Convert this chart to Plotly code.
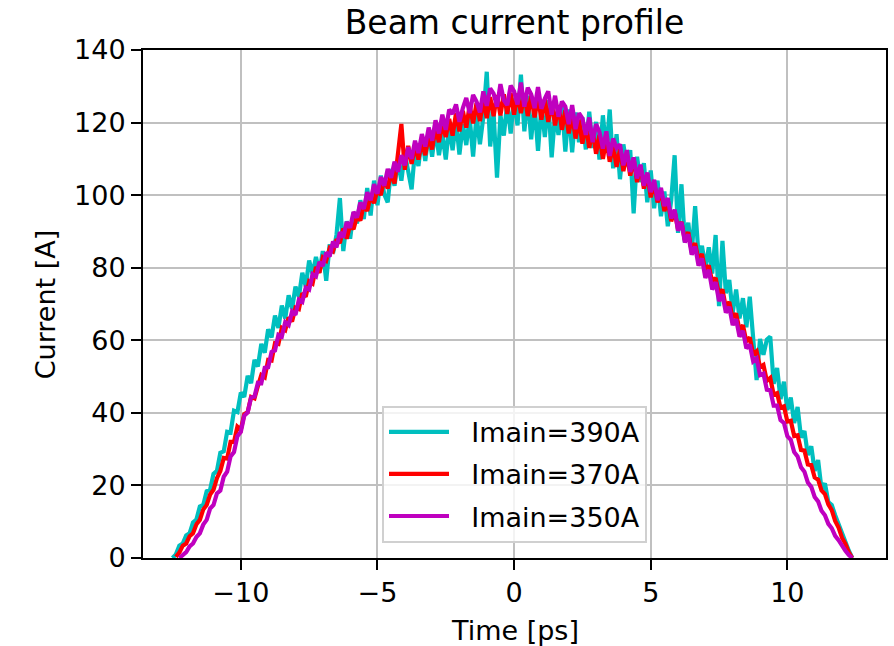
import plotly.graph_objects as go

# sampling grid of the measurement (ps)
time_ps = [round(-12.5 + 0.125 * k, 3) for k in range(201)]

N = None
current_390A = [
    0, 1.0, 3.4, 4.0, 6.2, 6.8, 9.8, 10.6, 14.2, 14.6,
    18.4, 18.8, 23.2, 24.0, 29.0, 29.4, 34.8, 34.6, 40.6, 40.2,
    45.6, 44.4, 50.2, 48.2, 54.6, 52.8, 59.0, 56.6, 63.0, 60.8,
    66.8, 63.4, 69.6, 66.0, 72.4, 68.6, 74.8, 72.0, 78.6, 74.8,
    82.0, 78.2, 83.0, 78.6, 84.6, 76.4, 86.4, 84.0, 89.0, 99.2,
    84.6, 92.8, 88.0, 95.2, 92.2, 98.6, 93.4, 102.0, 94.4, 104.0,
    97.2, 105.4, 100.2, 98.0, 107.2, 102.6, 109.4, 104.0, 111.6, 106.2,
    101.6, 112.4, 108.0, 115.8, 109.4, 117.4, 110.6, 118.2, 111.0, 117.0,
    109.8, 119.0, 112.4, 120.6, 111.2, 119.6, 113.8, 121.4, 110.6, 122.0,
    114.0, 121.6, 134.0, 113.4, 122.6, 104.8, 122.0, 116.4, 125.6, 117.0,
    126.8, 119.2, 133.2, 117.6, 127.4, 115.4, 125.0, 112.2, 124.6, 116.0,
    126.2, 110.4, 122.4, 116.6, 125.2, 112.0, 123.6, 111.8, 122.8, 114.6,
    121.4, 112.6, 123.0, 113.0, 120.2, 109.8, 122.0, 112.0, 123.6, 107.4,
    116.8, 104.4, 114.0, 108.0, 112.4, 95.0, 110.6, 103.6, 108.8, 98.0,
    106.8, 96.4, 104.0, 94.2, 101.0, 91.4, 98.6, 111.0, 89.6, 103.0,
    87.0, 92.4, 84.0, 97.0, 83.4, 86.0, 80.0, 85.6, 78.4, 89.0,
    69.4, 87.4, 73.0, 76.6, 67.6, 74.0, 66.0, 71.6, 63.6, 72.0,
    59.0, 49.0, 60.4, 56.0, 60.2, 61.0, 48.0, 52.4, 43.8, 48.6,
    40.8, 44.2, 37.2, 41.6, 33.2, 35.0, 28.4, 30.8, 24.0, 27.0,
    19.0, 20.6, 15.4, 14.6, 11.8, 9.2, 6.4, 4.2, 2.0, 0,
    N,
]

current_370A = [
    N, 0.3, 1.5, 3.4, 4.0, 6.0, 6.8, 9.3, 10.5, 13.4,
    14.6, 17.5, 18.8, 22.0, 24.0, 27.6, 27.4, 32.0, 32.0, 36.2,
    35.4, 39.6, 40.2, 44.4, 44.0, 47.4, 50.4, 49.8, 54.6, 54.4,
    59.2, 59.0, 63.4, 62.8, 66.3, 65.2, 69.0, 68.6, 73.0, 72.0,
    76.2, 75.6, 80.2, 78.6, 82.8, 82.0, 85.4, 84.6, 87.8, 86.8,
    90.8, 88.0, 91.8, 90.6, 94.2, 93.0, 97.4, 95.6, 99.8, 97.8,
    101.6, 100.0, 104.6, 101.8, 106.2, 103.2, 111.8, 119.6, 107.0, 113.6,
    108.6, 113.6, 109.8, 114.8, 111.0, 116.4, 112.6, 118.6, 114.6, 119.8,
    116.0, 121.0, 116.4, 122.6, 117.6, 123.2, 118.6, 124.8, 119.8, 125.4,
    120.4, 126.2, 121.2, 127.0, 121.8, 127.6, 122.0, 127.8, 122.4, 128.2,
    122.2, 128.0, 122.6, 127.8, 121.8, 127.4, 121.4, 127.0, 120.8, 126.4,
    120.2, 125.6, 119.2, 124.8, 118.0, 123.4, 117.0, 122.0, 115.6, 120.8,
    114.2, 119.4, 113.0, 118.0, 111.4, 116.6, 110.0, 115.4, 109.2, 113.8,
    107.8, 112.6, 106.6, 111.4, 105.4, 110.0, 103.6, 108.0, 101.8, 105.8,
    99.4, 103.4, 98.0, 101.2, 95.6, 98.4, 92.8, 95.6, 90.6, 92.6,
    87.6, 89.8, 84.6, 86.8, 82.0, 83.8, 79.2, 80.6, 76.0, 77.2,
    72.6, 74.0, 69.0, 70.6, 66.2, 67.4, 62.8, 64.2, 59.6, 60.8,
    56.2, 57.0, 52.6, 53.2, 48.8, 49.6, 45.0, 45.4, 41.4, 41.8,
    37.6, 37.8, 33.6, 33.8, 29.8, 29.6, 25.8, 25.6, 22.2, 21.6,
    18.6, 17.6, 14.8, 13.2, 10.2, 8.4, 5.6, 3.9, 1.6, 0,
    N,
]

current_350A = [
    N, N, 0, 0.9, 1.6, 3.2, 4.0, 5.8, 6.8, 9.2,
    10.5, 13.6, 14.6, 17.8, 18.6, 22.4, 23.8, 28.0, 29.2, 33.6,
    34.8, 39.2, 40.1, 44.2, 44.5, 48.3, 48.2, 52.4, 52.6, 56.8,
    57.2, 61.5, 61.0, 65.0, 64.2, 67.9, 67.0, 71.2, 70.6, 74.5,
    74.0, 78.2, 77.6, 81.6, 80.5, 84.2, 83.1, 87.2, 85.6, 89.8,
    88.4, 92.6, 91.0, 95.4, 93.8, 98.0, 96.2, 100.8, 98.6, 103.0,
    100.4, 105.0, 102.6, 107.2, 104.8, 109.2, 106.4, 111.0, 108.2, 113.2,
    110.0, 115.0, 111.6, 116.8, 113.4, 118.6, 115.0, 120.6, 117.0, 122.2,
    118.0, 123.6, 122.4, 125.0, 120.2, 124.0, 126.8, 122.6, 127.6, 125.8,
    122.8, 128.6, 124.6, 129.4, 128.0, 124.4, 130.6, 126.2, 124.8, 130.2,
    128.6, 125.0, 131.0, 124.4, 129.6, 127.8, 124.0, 129.8, 123.8, 126.6,
    128.6, 122.2, 127.4, 121.6, 125.8, 124.4, 119.6, 124.8, 118.2, 122.6,
    121.2, 116.6, 121.4, 114.6, 119.6, 117.4, 112.8, 117.6, 110.8, 115.6,
    113.0, 114.0, 108.2, 112.4, 106.4, 110.4, 104.6, 108.4, 102.6, 106.2,
    100.8, 104.2, 98.6, 102.0, 97.0, 99.2, 93.6, 96.0, 90.2, 92.6,
    87.0, 89.2, 83.6, 85.8, 80.6, 82.6, 77.2, 79.4, 74.0, 76.0,
    70.8, 72.6, 67.6, 69.2, 64.2, 65.8, 61.0, 62.6, 57.8, 58.8,
    54.2, 55.0, 50.4, 50.8, 46.4, 46.2, 42.0, 42.0, 38.0, 37.2,
    33.6, 32.6, 29.2, 28.0, 25.0, 23.8, 20.8, 19.6, 16.8, 15.6,
    13.0, 11.8, 9.4, 8.2, 6.1, 4.9, 3.3, 2.0, 0.8, 0,
    N,
]

series_names = ["Imain=390A", "Imain=370A", "Imain=350A"]
series_values = [current_390A, current_370A, current_350A]
series_colors = ["#00BFBF", "#FF0000", "#BF00BF"]

FONT = "DejaVu Sans"
NBSP = "\u00a0"

fig = go.Figure()
for k, (name, vals, col) in enumerate(zip(series_names, series_values, series_colors)):
    fig.add_trace(go.Scatter(
        x=time_ps, y=vals, mode="lines", name=NBSP * 2 + name,
        legendgroup=f"g{k}",
        line=dict(color=col, width=4.2), connectgaps=False,
    ))

axis_common = dict(
    ticks="outside", ticklen=10, tickwidth=2, tickcolor="black",
    showline=True, linecolor="black", linewidth=2, mirror=True,
    showgrid=True, gridcolor="#c0c0c0", gridwidth=2, zeroline=False,
    tickfont=dict(family=FONT, size=27, color="black"),
)

fig.update_layout(
    width=894, height=646,
    margin=dict(l=143, r=6, t=50, b=88),
    paper_bgcolor="white", plot_bgcolor="white",
    font=dict(family=FONT, color="black"),
    title=dict(text="Beam current profile", x=0.5, xref="paper",
               xanchor="center", y=1 - 22 / 646, yref="container",
               yanchor="middle", font=dict(family=FONT, size=33, color="black")),
    xaxis=dict(range=[-13.58, 13.61], tickvals=[-10, -5, 0, 5, 10], **axis_common),
    yaxis=dict(range=[0, 140], tickvals=[0, 20, 40, 60, 80, 100, 120, 140], **axis_common),
    legend=dict(
        x=0.5, xanchor="center", y=0.03, yanchor="bottom",
        bgcolor="rgba(255,255,255,0.8)", bordercolor="#d0d0d0", borderwidth=2,
        font=dict(family=FONT, size=27, color="black"),
        itemwidth=60, tracegroupgap=4,
    ),
    showlegend=True,
    annotations=[
        dict(text="Time [ps]", x=0.5, y=(558 - 630) / 508, xref="paper", yref="paper",
             showarrow=False, xanchor="center", yanchor="middle",
             font=dict(family=FONT, size=27, color="black")),
        dict(text="Current [A]", x=(45 - 143) / 745, y=0.5, xref="paper", yref="paper",
             showarrow=False, xanchor="center", yanchor="middle", textangle=-90,
             font=dict(family=FONT, size=27, color="black")),
    ],
)

fig.write_html("out.html")
